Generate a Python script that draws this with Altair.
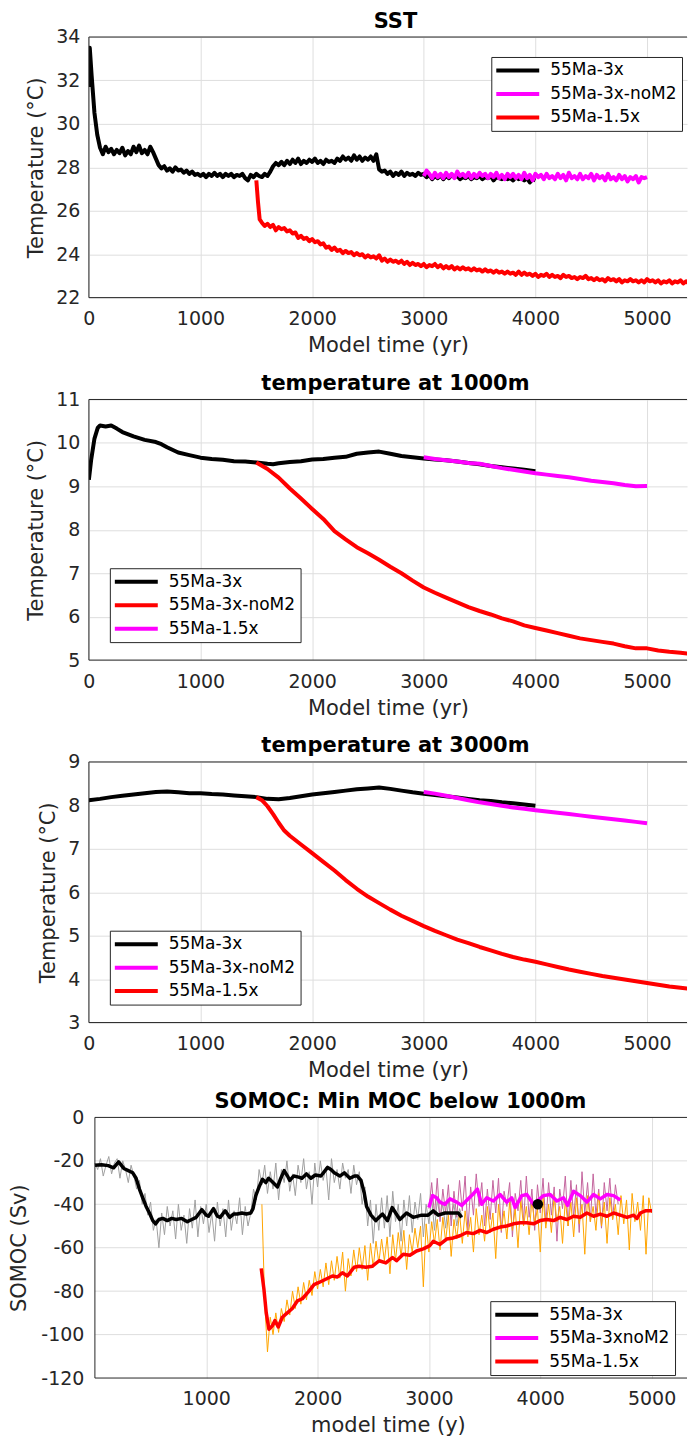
import altair as alt
import pandas as pd

FONT = "DejaVu Sans"
AX = "#262626"
GRID = "#dedede"
W = 599
H = 261

# ---------------- Panel 1: SST ----------------
sst_names = ["55Ma-3x", "55Ma-3x-noM2", "55Ma-1.5x"]
sst_colors = ["#000000", "#ff00ff", "#ff0000"]

sst_black_t = [0, 8] + list(range(25, 4001, 25))
sst_black_v = [31.7, 33.5,
    32.2, 30.5, 29.5, 28.9, 28.6, 28.95, 28.7, 28.85,
    28.6, 28.8, 28.65, 28.9, 28.55, 28.75, 28.6, 28.95,
    28.7, 29.0, 28.65, 28.8, 28.6, 28.95, 28.7, 28.4,
    28.1, 27.95, 28.05, 27.85, 27.95, 27.8, 28.0, 27.85,
    27.9, 27.75, 27.85, 27.7, 27.8, 27.65, 27.7, 27.6,
    27.7, 27.55, 27.7, 27.6, 27.75, 27.6, 27.7, 27.55,
    27.7, 27.6, 27.7, 27.55, 27.65, 27.6, 27.7, 27.5,
    27.4, 27.65, 27.55, 27.7, 27.6, 27.55, 27.7, 27.6,
    27.8, 28.05, 28.2, 28.1, 28.25, 28.1, 28.3, 28.15,
    28.35, 28.2, 28.4, 28.15, 28.3, 28.2, 28.35, 28.25,
    28.4, 28.2, 28.3, 28.15, 28.35, 28.25, 28.3, 28.2,
    28.4, 28.3, 28.5, 28.35, 28.45, 28.3, 28.55, 28.35,
    28.5, 28.3, 28.45, 28.35, 28.5, 28.3, 28.6, 27.9,
    27.8, 27.85, 27.7, 27.8, 27.6, 27.75, 27.65, 27.8,
    27.6, 27.75, 27.65, 27.7, 27.6, 27.75, 27.65, 27.7,
    27.55, 27.65, 27.45, 27.6, 27.5, 27.65, 27.45, 27.6,
    27.5, 27.65, 27.55, 27.6, 27.45, 27.55, 27.5, 27.6,
    27.45, 27.55, 27.5, 27.6, 27.45, 27.55, 27.5, 27.6,
    27.4, 27.55, 27.5, 27.45, 27.55, 27.45, 27.5, 27.4,
    27.55, 27.45, 27.5, 27.4, 27.5, 27.3, 27.45, 27.4]

sst_mag_t = list(range(3000, 5001, 25))
sst_mag_v = [
    27.6, 27.85, 27.7, 27.5, 27.75, 27.55, 27.7, 27.5,
    27.75, 27.55, 27.7, 27.5, 27.8, 27.6, 27.7, 27.55,
    27.75, 27.5, 27.7, 27.55, 27.75, 27.6, 27.7, 27.5,
    27.7, 27.55, 27.75, 27.5, 27.65, 27.45, 27.7, 27.55,
    27.7, 27.5, 27.65, 27.45, 27.75, 27.5, 27.65, 27.4,
    27.7, 27.55, 27.65, 27.45, 27.7, 27.5, 27.6, 27.45,
    27.7, 27.5, 27.65, 27.4, 27.75, 27.5, 27.6, 27.45,
    27.7, 27.45, 27.6, 27.5, 27.7, 27.4, 27.65, 27.5,
    27.6, 27.4, 27.7, 27.45, 27.55, 27.4, 27.65, 27.45,
    27.6, 27.35, 27.55, 27.45, 27.6, 27.3, 27.55, 27.5,
    27.55]

sst_red_t = [1500, 1515, 1530] + list(range(1550, 5426, 25)) + [5450]
sst_red_v = [27.4, 26.4, 25.6,
    25.45, 25.3, 25.4, 25.25, 25.35, 25.1, 25.25, 25.15,
    25.2, 25.05, 25.1, 24.95, 25.0, 24.75, 24.85, 24.7,
    24.75, 24.6, 24.7, 24.55, 24.6, 24.45, 24.5, 24.3,
    24.35, 24.2, 24.3, 24.15, 24.2, 24.05, 24.15, 24.05,
    24.1, 23.95, 24.05, 23.95, 24.0, 23.85, 23.95, 23.85,
    23.9, 23.8, 23.95, 23.7, 23.8, 23.65, 23.75, 23.65,
    23.7, 23.6, 23.7, 23.55, 23.65, 23.5, 23.6, 23.5,
    23.55, 23.45, 23.55, 23.4, 23.5, 23.45, 23.55, 23.4,
    23.5, 23.35, 23.45, 23.35, 23.45, 23.3, 23.4, 23.3,
    23.4, 23.3, 23.35, 23.25, 23.35, 23.25, 23.3, 23.2,
    23.3, 23.2, 23.25, 23.15, 23.25, 23.15, 23.2, 23.1,
    23.2, 23.1, 23.15, 23.05, 23.2, 23.05, 23.15, 23.05,
    23.1, 23.0, 23.1, 22.95, 23.05, 23.0, 23.1, 22.95,
    23.05, 22.95, 23.0, 22.9, 23.05, 22.95, 23.0, 22.9,
    22.95, 22.85, 22.95, 22.9, 23.0, 22.85, 22.9, 22.8,
    22.9, 22.8, 22.85, 22.75, 22.9, 22.8, 22.85, 22.75,
    22.85, 22.7, 22.8, 22.75, 22.85, 22.75, 22.8, 22.7,
    22.8, 22.7, 22.85, 22.75, 22.8, 22.7, 22.8, 22.65,
    22.75, 22.7, 22.8, 22.65, 22.75, 22.7, 22.8, 22.65,
    22.75, 22.65, 22.7, 22.65,
    22.7]

# ---------------- Panel 2: temperature at 1000m ----------------
t1000_names = ["55Ma-3x", "55Ma-3x-noM2", "55Ma-1.5x"]
t1000_colors = ["#000000", "#ff0000", "#ff00ff"]

t1000_black_t = [0, 20, 50, 80, 100, 150, 200, 250, 300, 400, 500, 600, 650, 700,
                 800, 900, 1000, 1100, 1200, 1300, 1400, 1500, 1600, 1650] + list(range(1700, 4001, 100))
t1000_black_v = [9.15, 9.6, 10.1, 10.35, 10.4, 10.38, 10.4, 10.33, 10.25, 10.15, 10.07, 10.02, 9.97, 9.9,
                 9.78, 9.72, 9.66, 9.63, 9.61, 9.58, 9.57, 9.55, 9.52, 9.51,
                 9.53, 9.56, 9.58, 9.62, 9.63, 9.66, 9.68, 9.75, 9.78, 9.8, 9.75, 9.7,
                 9.67, 9.64, 9.62, 9.6, 9.57, 9.54, 9.51, 9.47, 9.44, 9.41, 9.38, 9.35]
t1000_red_t = list(range(1500, 5401, 100)) + [5450]
t1000_red_v = [9.55, 9.4, 9.2, 8.95, 8.72, 8.48, 8.25, 7.97, 7.78, 7.6,
               7.46, 7.31, 7.15, 7.0, 6.83, 6.67, 6.55, 6.44, 6.33, 6.22,
               6.13, 6.05, 5.96, 5.89, 5.8, 5.74, 5.68, 5.62, 5.56, 5.5,
               5.46, 5.42, 5.38, 5.32, 5.27, 5.27, 5.22, 5.19, 5.17, 5.14,
               5.12]
t1000_mag_t = list(range(3000, 5001, 100))
t1000_mag_v = [9.67, 9.63, 9.6, 9.57, 9.54, 9.52, 9.47, 9.42, 9.38, 9.34,
               9.3, 9.27, 9.24, 9.21, 9.17, 9.13, 9.1, 9.07, 9.03, 9.0, 9.01]

# ---------------- Panel 3: temperature at 3000m ----------------
t3000_names = ["55Ma-3x", "55Ma-3x-noM2", "55Ma-1.5x"]
t3000_colors = ["#000000", "#ff00ff", "#ff0000"]

t3000_black_t = list(range(0, 4001, 100))
t3000_black_v = [8.12, 8.15, 8.19, 8.22, 8.25, 8.28, 8.31, 8.32, 8.3, 8.28,
                 8.28, 8.26, 8.25, 8.23, 8.21, 8.19, 8.15, 8.14, 8.17, 8.21,
                 8.25, 8.28, 8.31, 8.34, 8.37, 8.39, 8.41, 8.38, 8.34, 8.3,
                 8.27, 8.24, 8.21, 8.18, 8.15, 8.12, 8.1, 8.07, 8.05, 8.02,
                 7.99]
t3000_mag_t = list(range(3000, 5001, 100))
t3000_mag_v = [8.31, 8.27, 8.22, 8.17, 8.12, 8.07, 8.03, 7.99, 7.95, 7.92,
               7.89, 7.86, 7.83, 7.8, 7.77, 7.74, 7.71, 7.68, 7.65, 7.62, 7.59]
t3000_red_t = [1500, 1550, 1600, 1650, 1700, 1750] + list(range(1800, 5401, 100)) + [5450]
t3000_red_v = [8.19, 8.12, 7.98, 7.8, 7.6, 7.42,
               7.3, 7.1, 6.9, 6.7, 6.5, 6.28, 6.08, 5.9, 5.75, 5.6,
               5.46, 5.34, 5.22, 5.11, 5.01, 4.91, 4.83, 4.74, 4.66, 4.58,
               4.51, 4.45, 4.4, 4.34, 4.28, 4.22, 4.17, 4.12, 4.07, 4.03,
               3.99, 3.95, 3.91, 3.87, 3.83, 3.8, 3.77,
               3.76]

# ---------------- Panel 4: SOMOC ----------------
moc_names = ["55Ma-3x", "55Ma-3xnoM2", "55Ma-1.5x"]
moc_colors = ["#000000", "#ff00ff", "#ff0000"]

moc_gray_t = list(range(0, 3301, 25))
moc_gray_v = [
    -21, -24, -19, -27, -22, -18, -26, -21,
    -19, -28, -20, -24, -30, -22, -27, -33,
    -29, -40, -35, -45, -39, -52, -47, -60,
    -44, -54, -41, -50, -43, -56, -40, -52,
    -45, -58, -42, -51, -38, -55, -41, -49,
    -40, -53, -44, -57, -39, -50, -42, -55,
    -38, -52, -43, -49, -37, -54, -41, -50,
    -44, -33, -38, -24, -31, -22, -35, -25,
    -33, -21, -38, -24, -30, -20, -34, -26,
    -36, -22, -30, -19, -33, -25, -40, -21,
    -32, -20, -29, -23, -38, -19, -30, -24,
    -33, -21, -28, -24, -35, -22, -31, -25,
    -40, -32, -50, -38, -58, -40, -52, -37,
    -51, -36, -55, -34, -48, -40, -57, -38,
    -50, -36, -53, -39, -47, -35, -55, -40,
    -49, -37, -52, -38, -46, -40, -51, -39,
    -47, -40, -50, -42, -46]

moc_mauve_t = list(range(3000, 4701, 25))
moc_mauve_v = [
    -42, -30, -45, -28, -48, -33, -44, -31,
    -50, -34, -46, -29, -43, -27, -52, -32,
    -45, -26, -41, -30, -50, -33, -47, -29,
    -44, -28, -53, -34, -41, -30, -55, -35,
    -43, -29, -48, -27, -46, -33, -52, -31,
    -44, -28, -49, -30, -45, -32, -57, -33,
    -42, -27, -50, -29, -46, -31, -53, -25,
    -44, -30, -48, -26, -45, -33, -51, -30,
    -43, -28, -47, -31, -40]

moc_orange_t = list(range(1500, 5001, 25))
moc_orange_v = [
    -40, -85, -108, -92, -100, -90, -99, -88,
    -94, -84, -91, -80, -88, -78, -86, -76,
    -84, -75, -82, -71, -79, -70, -78, -67,
    -77, -66, -75, -64, -74, -62, -80, -65,
    -73, -61, -71, -60, -70, -59, -75, -58,
    -69, -57, -67, -56, -66, -55, -72, -54,
    -66, -53, -64, -52, -70, -54, -62, -51,
    -60, -50, -78, -49, -62, -48, -58, -47,
    -61, -46, -57, -45, -64, -47, -56, -44,
    -58, -43, -55, -46, -62, -42, -54, -45,
    -57, -41, -53, -44, -65, -40, -52, -43,
    -56, -39, -52, -42, -60, -38, -50, -41,
    -54, -38, -49, -42, -62, -37, -51, -40,
    -53, -36, -48, -41, -58, -38, -50, -39,
    -55, -37, -49, -40, -63, -36, -48, -41,
    -52, -35, -50, -39, -58, -37, -47, -40,
    -54, -36, -49, -38, -61, -35, -48, -39,
    -52, -36, -63, -37, -44]

moc_black_t = [0, 60, 120, 168, 213, 260, 300, 340, 370, 400,
               430, 460, 490, 520, 545, 575, 610, 650, 690, 730,
               780, 830, 870, 910, 960, 1000, 1020, 1065, 1100, 1125,
               1170, 1210, 1245, 1280, 1320, 1360, 1400, 1420, 1445, 1475,
               1505, 1535, 1560, 1600, 1640, 1670, 1700, 1730, 1750, 1785,
               1830, 1860, 1900, 1940, 1980, 2030, 2090, 2120, 2150, 2200,
               2240, 2290, 2330, 2358, 2390, 2420, 2440, 2480, 2523, 2583,
               2628, 2670, 2739, 2799, 2859, 2934, 2994, 3039, 3084, 3144,
               3219, 3264, 3294]
moc_black_v = [-22, -21.8, -22.2, -23.2, -20.5, -23.5, -24.5, -25.5, -28, -33,
               -37, -41, -44, -47.5, -49, -47, -46.5, -47.5, -46.5, -47,
               -46.5, -48, -47, -46, -42.5, -45, -45.5, -42, -45.5, -46,
               -43, -46, -44.5, -44.5, -44, -44.5, -44, -42, -36, -32,
               -28.5, -30, -28, -30, -32, -28, -24.5, -27, -29, -27,
               -27.5, -28, -26, -28, -26.5, -27, -23, -24, -25.5, -27,
               -25.5, -28, -27, -27, -29, -35, -41, -45, -47.5, -44.5,
               -47.5, -41.5, -47, -44, -46, -45, -45, -43, -45, -44,
               -44, -44, -46]
moc_mag_t = [3000, 3033, 3069, 3099, 3144, 3189, 3249, 3294, 3354, 3393,
             3435, 3474, 3519, 3579, 3639, 3699, 3744, 3774, 3834, 3879,
             3939, 4029, 4089, 4149, 4209, 4245, 4299, 4359, 4419, 4479,
             4539, 4599, 4659, 4719]
moc_mag_v = [-41.5, -36, -37, -39, -40, -37.5, -39, -40.5, -37.5, -35.5,
             -33, -40, -37, -38.5, -35.5, -39, -37, -41.5, -36, -35.5,
             -40, -36, -35.5, -38.5, -37, -40.5, -34, -36, -39, -35.5,
             -37.5, -35.5, -36, -38]
moc_red_t = [1494, 1518, 1539, 1563, 1593, 1617, 1647, 1683, 1728, 1773,
             1818, 1863, 1923, 1968, 2013, 2073, 2133, 2178, 2223, 2268,
             2328, 2373, 2433, 2493, 2553, 2613, 2673, 2709, 2769, 2829,
             2889, 2949, 3009, 3039, 3099, 3159, 3219, 3279, 3339, 3399,
             3459, 3519, 3579, 3639, 3699, 3759, 3819, 3879, 3939, 3999,
             4059, 4119, 4179, 4239, 4299, 4359, 4419, 4479, 4539, 4599,
             4659, 4719, 4779, 4839, 4869, 4899, 4944, 5004]
moc_red_v = [-69.5, -79, -90, -97.5, -96, -93.5, -96.5, -92, -90, -88,
             -84.5, -83.5, -80, -77, -76, -74.5, -73, -73.5, -71.5, -73,
             -69, -68.5, -69, -68.5, -66, -67, -64.5, -66, -63, -63.5,
             -61.5, -60.5, -59, -57, -58.5, -56, -55.5, -54.5, -53, -53.5,
             -52, -53, -51.5, -50.5, -50, -49, -48.5, -48.5, -49, -47.5,
             -47, -47.5, -46, -47, -45.5, -46, -44, -45.5, -44.5, -45.5,
             -44, -45, -46, -45, -46.5, -44, -43, -43]
moc_dot_t = [3978]
moc_dot_v = [-40]

# ---------------- helpers ----------------
def y_axis(values, title, label_pad=9, title_pad=9, grid=True):
    return alt.Axis(values=values, title=title, grid=grid, gridColor=GRID, gridWidth=1,
                    domain=False, ticks=False, labelPadding=label_pad,
                    labelExpr="datum.value",
                    labelFont=FONT, labelFontSize=19, labelColor=AX,
                    titleFont=FONT, titleFontSize=21, titleFontWeight="normal",
                    titleColor=AX, titlePadding=title_pad,
                    labelFlush=False, labelOverlap=False, labelBound=False)


def x_axis(values, title):
    return alt.Axis(values=values, title=title, grid=True, gridColor=GRID, gridWidth=1,
                    domain=False, ticks=False, labelPadding=12,
                    labelExpr="datum.value",
                    labelFont=FONT, labelFontSize=19, labelColor=AX,
                    titleFont=FONT, titleFontSize=21, titleFontWeight="normal",
                    titleColor=AX, titlePadding=6,
                    labelFlush=False, labelOverlap=False, labelBound=False)


def legend(lx, ly, extra_space=False):
    kw = dict(orient="none", legendX=lx, legendY=ly, title=None, direction="vertical",
              fillColor="white", strokeColor=AX, padding=5, cornerRadius=0,
              symbolType="M-3.5,0H3.5", symbolSize=151, symbolStrokeWidth=4,
              symbolOffset=13, labelOffset=24, rowPadding=5.5,
              labelFont=FONT, labelFontSize=17, labelColor="black")
    if extra_space:
        kw["labelExpr"] = "datum.label + '\u00a0\u00a0\u00a0\u00a0'"
    return alt.Legend(**kw)


def title(text, dx=0):
    return alt.TitleParams(text, font=FONT, fontSize=21, fontWeight="bold", color="black",
                           anchor="middle", offset=-3.5, dx=dx)


def series_layers(series, X, Y, names, colors, leg, width=4):
    layers = []
    color = alt.Color("s:N", scale=alt.Scale(domain=names, range=colors), legend=leg)
    for name, ts, vs in series:
        df = pd.DataFrame({"t": ts, "v": vs, "s": name})
        layers.append(alt.Chart(df).mark_line(strokeWidth=width, clip=True,
                                              strokeJoin="round").encode(x=X, y=Y, color=color))
    return layers


def frame(X, Y, x0, x1, y0, y1):
    """Left, top and bottom box lines (the right edge lies outside the picture)."""
    h = alt.Chart(pd.DataFrame({"t": [x0, x0], "t2": [x1, x1], "v": [y0, y1]})).mark_rule(
        color=AX, strokeWidth=1).encode(x=X, x2="t2:Q", y=Y)
    v = alt.Chart(pd.DataFrame({"t": [x0]})).mark_rule(color=AX, strokeWidth=1).encode(x=X)
    return [h, v]


XV = [0, 1000, 2000, 3000, 4000, 5000]
X1MAX = 5358

# Panel 1
X1 = alt.X("t:Q", scale=alt.Scale(domain=[0, X1MAX], nice=False, zero=False),
           axis=x_axis(XV, "Model time (yr)"))
Y1 = alt.Y("v:Q", scale=alt.Scale(domain=[22, 34], nice=False, zero=False),
           axis=y_axis([22, 24, 26, 28, 30, 32, 34], "Temperature (°C)"))
p1 = alt.layer(*series_layers(
    [(sst_names[0], sst_black_t, sst_black_v),
     (sst_names[1], sst_mag_t, sst_mag_v),
     (sst_names[2], sst_red_t, sst_red_v)],
    X1, Y1, sst_names, sst_colors, legend(403, 20)),
    *frame(X1, Y1, 0, X1MAX, 22, 34)
).properties(width=W, height=H, title=title("SST", dx=7.5))

# Panel 2
Y2 = alt.Y("v:Q", scale=alt.Scale(domain=[5, 11], nice=False, zero=False),
           axis=y_axis([5, 6, 7, 8, 9, 10, 11], "Temperature (°C)"))
p2 = alt.layer(*series_layers(
    [(t1000_names[0], t1000_black_t, t1000_black_v),
     (t1000_names[1], t1000_red_t, t1000_red_v),
     (t1000_names[2], t1000_mag_t, t1000_mag_v)],
    X1, Y2, t1000_names, t1000_colors, legend(21, 169)),
    *frame(X1, Y2, 0, X1MAX, 5, 11)
).properties(width=W, height=H, title=title("temperature at 1000m", dx=7.5))

# Panel 3
Y3 = alt.Y("v:Q", scale=alt.Scale(domain=[3, 9], nice=False, zero=False),
           axis=y_axis([3, 4, 5, 6, 7, 8, 9], "Temperature (°C)"))
p3 = alt.layer(*series_layers(
    [(t3000_names[0], t3000_black_t, t3000_black_v),
     (t3000_names[1], t3000_mag_t, t3000_mag_v),
     (t3000_names[2], t3000_red_t, t3000_red_v)],
    X1, Y3, t3000_names, t3000_colors, legend(21, 169)),
    *frame(X1, Y3, 0, X1MAX, 3, 9)
).properties(width=W, height=H, title=title("temperature at 3000m", dx=7.5))

# Panel 4
X4MIN, X4MAX = -54, 5318
X4 = alt.X("t:Q", scale=alt.Scale(domain=[X4MIN, X4MAX], nice=False, zero=False),
           axis=x_axis([1000, 2000, 3000, 4000, 5000], "model time (y)"))
Y4 = alt.Y("v:Q", scale=alt.Scale(domain=[-120, 0], nice=False, zero=False),
           axis=y_axis([-120, -100, -80, -60, -40, -20, 0], "SOMOC (Sv)",
                       label_pad=5, title_pad=11, grid=False))

grid4 = alt.Chart(pd.DataFrame({"t": [0] * 5, "t2": [X4MAX] * 5,
                                "v": [-100, -80, -60, -40, -20]})).mark_rule(
    color=GRID, strokeWidth=1).encode(x=X4, x2="t2:Q", y=Y4)


def thin(ts, vs, col):
    return alt.Chart(pd.DataFrame({"t": ts, "v": vs})).mark_line(
        color=col, strokeWidth=1, clip=True).encode(x=X4, y=Y4)


thick4 = series_layers(
    [(moc_names[0], moc_black_t, moc_black_v),
     (moc_names[1], moc_mag_t, moc_mag_v),
     (moc_names[2], moc_red_t, moc_red_v)],
    X4, Y4, moc_names, moc_colors, legend(402, 184, extra_space=True), width=3.5)

dot = alt.Chart(pd.DataFrame({"t": moc_dot_t, "v": moc_dot_v})).mark_circle(
    size=110, color="black", opacity=1).encode(x=X4, y=Y4)

p4 = alt.layer(
    grid4,
    thin(moc_gray_t, moc_gray_v, "#a0a0a0"),
    thin(moc_mauve_t, moc_mauve_v, "#c4649e"),
    thin(moc_orange_t, moc_orange_v, "#ffa500"),
    *thick4,
    dot,
    *frame(X4, Y4, 0, X4MAX, -120, 0),
).properties(width=W, height=H, title=title("SOMOC: Min MOC below 1000m", dx=12.5))

top = alt.vconcat(p1, p2, p3, spacing=17).resolve_scale(
    color="independent", x="independent", y="independent").resolve_legend(color="independent")

chart = alt.vconcat(top, p4, spacing=10).resolve_scale(
    color="independent", x="independent", y="independent").resolve_legend(
    color="independent").properties(
    padding={"left": 0, "top": 1, "right": 0, "bottom": 0}
).configure(font=FONT).configure_view(stroke=None)

chart.save("out.html", embed_options={"renderer": "svg", "actions": False})
